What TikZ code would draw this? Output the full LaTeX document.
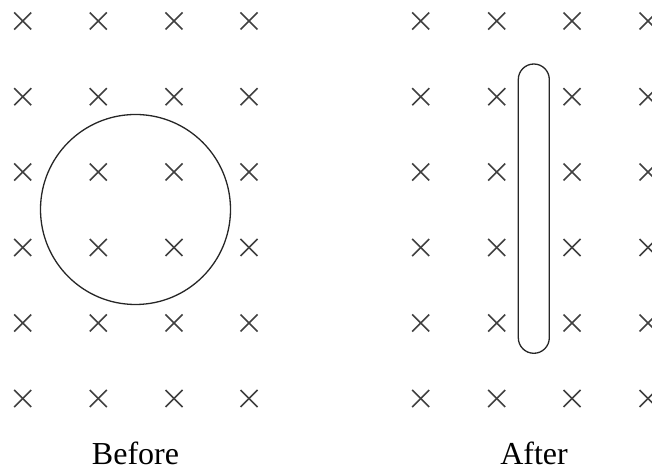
\documentclass[tikz,border=0pt]{standalone}
\usepackage{fontspec}
\setmainfont{Liberation Serif}
\usetikzlibrary{calc,positioning}

\begin{document}
\begin{tikzpicture}[x=0.5pt,y=0.5pt,
        cross/.style={line width=0.8pt,draw=black!75},
        loop/.style={line width=0.65pt,draw=black!85},
        caption/.style={font=\fontsize{16}{19}\selectfont,anchor=base,inner sep=0pt}]
        \useasboundingbox (0,0) rectangle (652,470);
        \coordinate (O) at (135.5,260.5);
        \coordinate (SB) at (518.3,132.2);
        \coordinate (ST) at (518.3,390.5);
        
        % field into the page
        \foreach \x in {22.7,98.3,174,249,420.7,496.7,572,648}
            \foreach \y in {449,373.3,298,222.5,147,71.5}
            {
                \draw[cross] ($(\x,\y)+(-8.5,-8.5)$) -- ($(\x,\y)+(8.5,8.5)$);
                \draw[cross] ($(\x,\y)+(-8.5,8.5)$) -- ($(\x,\y)+(8.5,-8.5)$);
            };
        
        \draw[loop] (O) circle (95);
        \draw[loop] (SB) -- (ST) arc (180:0:15.5) -- ($(SB)+(31,0)$) arc (0:-180:15.5) -- cycle;
        
        \node[caption] (before) at (135.5,5) {Before};
        \node[caption] (after) at (534,5) {After};
    \end{tikzpicture}
\end{document}
